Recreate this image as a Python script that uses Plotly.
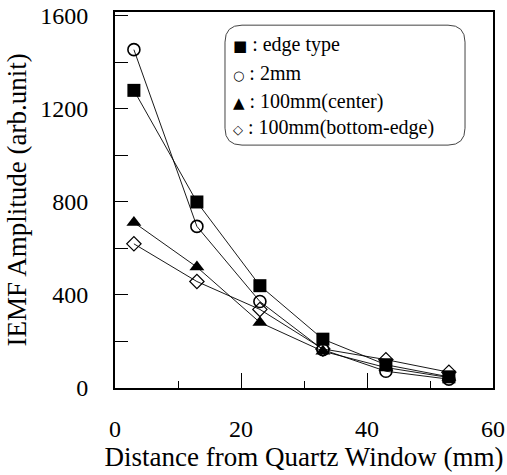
import plotly.graph_objects as go

distance_mm = [3, 13, 23, 33, 43, 53]
edge_type = [1280, 800, 440, 210, 100, 48]
two_mm = [1455, 695, 372, 165, 72, 38]
center_100mm = [712, 520, 282, 158, 88, 45]
bottom_edge_100mm = [620, 458, 338, 168, 122, 68]

series_names = ["edge type", "2mm", "100mm(center)", "100mm(bottom-edge)"]
legend_symbols = ["■", "○", "▲", "◇"]
x_ticks = [0, 20, 40, 60]
y_ticks = [0, 400, 800, 1200, 1600]

FONT = "Liberation Serif"

fig = go.Figure()
styles = [
    dict(symbol="square", size=13, color="black", line=dict(width=0)),
    dict(symbol="circle-open", size=12, color="black", line=dict(width=1.6)),
    dict(symbol="triangle-up", size=13, color="black", line=dict(width=0)),
    dict(symbol="diamond-open", size=11, color="black", line=dict(width=1.2)),
]
for name, ys, st in zip(series_names, [edge_type, two_mm, center_100mm, bottom_edge_100mm], styles):
    fig.add_trace(go.Scatter(
        x=distance_mm, y=ys, name=name, mode="lines+markers",
        line=dict(color="black", width=0.9),
        marker=st, showlegend=False,
    ))

# Legend box (rounded rectangle) in paper coords
x0, x1, y0, y1 = 0.291, 0.926, 0.646, 0.965
rx, ry = 0.045, 0.045
path = (f"M {x0+rx},{y1} L {x1-rx},{y1} Q {x1},{y1} {x1},{y1-ry} "
        f"L {x1},{y0+ry} Q {x1},{y0} {x1-rx},{y0} L {x0+rx},{y0} "
        f"Q {x0},{y0} {x0},{y0+ry} L {x0},{y1-ry} Q {x0},{y1} {x0+rx},{y1} Z")
fig.add_shape(type="path", path=path, xref="paper", yref="paper",
              line=dict(color="#444", width=1), fillcolor="white", layer="below")

legend_y = [0.913, 0.838, 0.761, 0.692]
sym_sizes = [15, 13, 15, 13]
for sym, name, yy, ss in zip(legend_symbols, series_names, legend_y, sym_sizes):
    fig.add_annotation(
        xref="paper", yref="paper", x=0.308, y=yy, xanchor="left", yanchor="middle",
        text=f"<span style='font-size:{ss}px;font-family:DejaVu Sans'>{sym}</span> : {name}",
        showarrow=False, font=dict(family=FONT, size=20, color="black"),
    )

fig.update_layout(
    width=507, height=475,
    margin=dict(l=115, r=14, t=12, b=87, autoexpand=False),
    paper_bgcolor="white", plot_bgcolor="white",
    font=dict(family=FONT, color="black"),
)
fig.update_xaxes(
    range=[0, 60], tickvals=x_ticks, ticktext=[str(v) for v in x_ticks],
    ticks="inside", ticklen=15, tickwidth=1.3, tickcolor="black",
    minor=dict(tickvals=[10, 30, 50], ticks="inside", ticklen=7, tickwidth=1.3, tickcolor="black"),
    showline=True, linecolor="black", linewidth=2, mirror=True,
    showgrid=False, zeroline=False, automargin=False,
    tickfont=dict(family=FONT, size=24, color="black"),
    ticklabelstandoff=18,
    title=dict(text="Distance from Quartz Window (mm)", font=dict(family=FONT, size=27, color="black"), standoff=0),
)
fig.update_yaxes(
    range=[0, 1617], tickvals=y_ticks, ticktext=[str(v) for v in y_ticks],
    ticks="inside", ticklen=13, tickwidth=1.3, tickcolor="black",
    minor=dict(tickvals=[200, 600, 1000, 1400], ticks="inside", ticklen=13, tickwidth=1.3, tickcolor="black"),
    showline=True, linecolor="black", linewidth=2, mirror=True,
    showgrid=False, zeroline=False, automargin=False,
    tickfont=dict(family=FONT, size=24, color="black"),
    ticklabelstandoff=20,
    title=dict(text="IEMF Amplitude (arb.unit)", font=dict(family=FONT, size=27, color="black"), standoff=6),
)

fig.write_html("out.html")
